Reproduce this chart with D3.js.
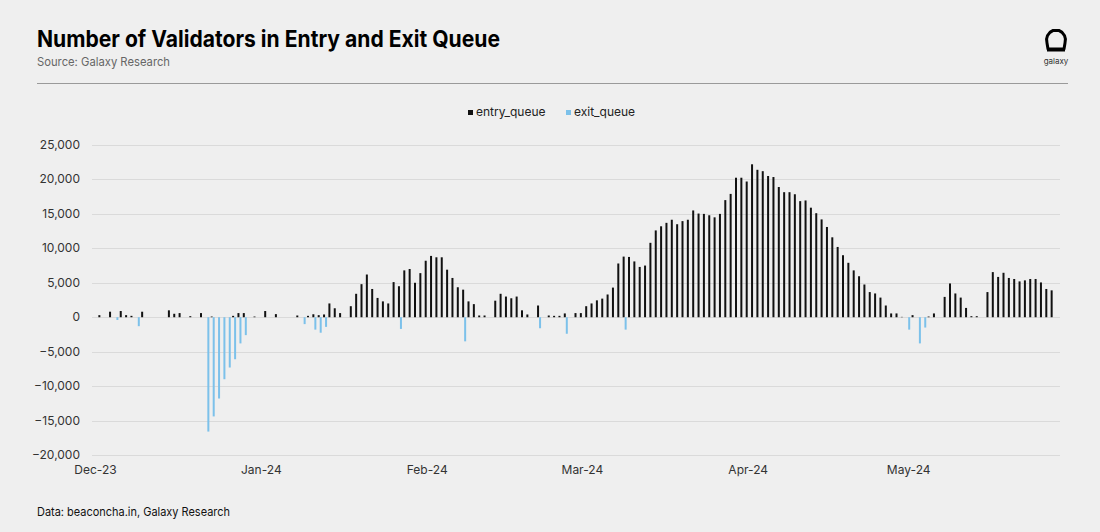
<!DOCTYPE html>
<html>
<head>
<meta charset="utf-8">
<script src="https://cdn.jsdelivr.net/npm/d3@7"></script>
<style>
  body { margin: 0; background: #efefef; }
  svg { display: block; font-family: Inter, "Noto Sans", sans-serif; }
</style>
</head>
<body>
<div id="chart"></div>
<script>
// daily values, starting 1 Dec 2023 (index 0) to 28 May 2024 (index 179)
const startDate = Date.UTC(2023, 11, 1);
const entryQueue = [
  0, 300, 0, 800, 0, 900, 300, 200, 0, 800,
  0, 0, 0, 0, 1000, 500, 600, 0, 150, 0,
  600, 0, 100, 0, 0, 0, 200, 600, 600, 0,
  100, 0, 900, 0, 450, 0, 0, 0, 250, 0,
  200, 430, 300, 400, 2000, 1300, 600, 0, 1600, 3400,
  4800, 6200, 4100, 2800, 2300, 2000, 5100, 4500, 6800, 7000,
  5000, 6400, 8200, 8900, 8700, 8700, 6900, 5700, 4350, 4000,
  2300, 1900, 250, 250, 0, 2400, 3400, 3000, 2750, 3000,
  1000, 400, 0, 1700, 0, 250, 200, 200, 550, 0,
  600, 600, 1600, 2000, 2450, 2700, 3300, 4300, 7800, 8800,
  8750, 8100, 7300, 7500, 10800, 12600, 13200, 13700, 14150, 13500,
  13950, 14150, 15500, 15050, 15000, 14800, 14500, 15000, 17000, 17900,
  20250, 20250, 19700, 22200, 21400, 21200, 20500, 20350, 18900, 18150,
  18150, 17850, 16850, 16950, 15900, 15100, 14200, 13100, 11600, 10200,
  9000, 7900, 6800, 5950, 4750, 3650, 3450, 2850, 1700, 550,
  550, 50, 0, 300, 0, 0, 100, 550, 0, 2950,
  4900, 3450, 2850, 1350, 150, 150, 0, 3650, 6550, 5850,
  6450, 5700, 5550, 5200, 5350, 5550, 5550, 5050, 4100, 3900
];
const exitQueue = [
  0, 0, 0, 0, -400, 0, 0, 0, -1300, 0,
  0, 0, 0, 0, 0, 0, 0, 0, 0, 0,
  0, -16600, -14400, -11800, -9000, -7300, -6100, -3800, -2600, 0,
  0, 0, 0, 0, 0, 0, 0, 0, 0, -1000,
  0, -1800, -2250, -1400, 0, 0, 0, 0, 0, 0,
  0, 0, 0, 0, 0, 0, 0, -1700, 0, 0,
  0, 0, 0, 0, 0, 0, 0, 0, 0, -3500,
  0, 0, 0, 0, 0, 0, 0, 0, 0, 0,
  0, 0, 0, -1600, 0, 0, 0, 0, -2400, 0,
  0, 0, 0, 0, 0, 0, 0, 0, 0, -1800,
  0, 0, 0, 0, 0, 0, 0, 0, 0, 0,
  0, 0, 0, 0, 0, 0, 0, 0, 0, 0,
  0, 0, 0, 0, 0, 0, 0, 0, 0, 0,
  0, 0, 0, 0, 0, 0, 0, 0, 0, 0,
  0, 0, 0, 0, 0, 0, 0, 0, 0, 0,
  0, 0, -1800, 0, -3800, -1500, 0, 0, 0, 0,
  0, 0, 0, 0, 0, 0, 0, 0, 0, 0,
  0, 0, 0, 0, 0, 0, 0, 0, 0, 0
];
const yTicks = [-20000, -15000, -10000, -5000, 0, 5000, 10000, 15000, 20000, 25000];
const monthTicks = ["2023-12-01", "2024-01-01", "2024-02-01", "2024-03-01", "2024-04-01", "2024-05-01"];
const seriesNames = ["entry_queue", "exit_queue"];
const seriesColors = ["#111111", "#7cc1ea"];

const W = 1100, H = 532;
const svg = d3.select("#chart").append("svg")
    .attr("width", W)
    .attr("height", H);

const day = 86400000;
const dates = entryQueue.map((d, i) => new Date(startDate + i * day));

// x: one day ~5.35px, Dec 1 centred at 95
const x = d3.scaleUtc()
    .domain([new Date(startDate), new Date(startDate + 182 * day)])
    .range([95, 95 + 182 * 5.35]);
const y = d3.scaleLinear()
    .domain([-20000, 25000])
    .range([455, 145]);

// header
svg.append("text")
    .attr("x", 37).attr("y", 47)
    .attr("font-size", 23).attr("font-weight", 700)
    .attr("fill", "#000")
    .attr("textLength", 463).attr("lengthAdjust", "spacingAndGlyphs")
    .text("Number of Validators in Entry and Exit Queue");
svg.append("text")
    .attr("x", 37).attr("y", 66)
    .attr("font-size", 12).attr("fill", "#666")
    .attr("textLength", 133).attr("lengthAdjust", "spacingAndGlyphs")
    .text("Source: Galaxy Research");
svg.append("line")
    .attr("x1", 37).attr("x2", 1068)
    .attr("y1", 83.5).attr("y2", 83.5)
    .attr("stroke", "#9a9a9a").attr("stroke-width", 1);

// logo
const logo = svg.append("g").attr("transform", "translate(1056,40)");
logo.append("path")
    .attr("d", "M-8,9 L-9,3 A10,10 0 0 1 -3,-9.5 L3,-9.5 A10,10 0 0 1 9,3 L8,9 Z")
    .attr("fill", "none").attr("stroke", "#000").attr("stroke-width", 3)
    .attr("stroke-linejoin", "round");
logo.append("line")
    .attr("x1", -9).attr("x2", 9).attr("y1", 10).attr("y2", 10)
    .attr("stroke", "#000").attr("stroke-width", 3);
logo.append("text")
    .attr("x", 0).attr("y", 24)
    .attr("text-anchor", "middle")
    .attr("font-size", 8).attr("fill", "#333")
    .text("galaxy");

// legend
const legend = svg.append("g").attr("transform", "translate(468,116)");
const legendX = [0, 98];
seriesNames.forEach((name, i) => {
    legend.append("rect")
        .attr("x", legendX[i]).attr("y", -6)
        .attr("width", 5).attr("height", 5)
        .attr("fill", seriesColors[i]);
    legend.append("text")
        .attr("x", legendX[i] + 8).attr("y", 0)
        .attr("font-size", 12).attr("fill", "#222")
        .text(name);
});

// gridlines + y axis labels
svg.append("g")
    .selectAll("line")
    .data(yTicks)
    .enter().append("line")
    .attr("x1", 92).attr("x2", 1060)
    .attr("y1", d => Math.round(y(d)) + 0.5)
    .attr("y2", d => Math.round(y(d)) + 0.5)
    .attr("stroke", "#dadada").attr("stroke-width", 1);

svg.append("g")
    .selectAll("text")
    .data(yTicks)
    .enter().append("text")
    .attr("x", 80)
    .attr("y", d => y(d) + 4)
    .attr("text-anchor", "end")
    .attr("font-size", 12).attr("fill", "#333")
    .text(d => d3.format(",")(d));

// x axis labels
const xAxis = d3.axisBottom(x)
    .tickValues(monthTicks.map(s => new Date(s + "T00:00:00Z")))
    .tickFormat(d3.utcFormat("%b-%y"))
    .tickSize(0)
    .tickPadding(0);
const gx = svg.append("g")
    .attr("transform", "translate(0,465)")
    .call(xAxis);
gx.select(".domain").remove();
gx.selectAll("text")
    .attr("font-size", 12).attr("fill", "#333")
    .attr("font-family", "Inter, sans-serif");

// bars
const barW = 2;
svg.append("g")
    .selectAll("rect")
    .data(entryQueue.map((v, i) => ({ date: dates[i], v })).filter(d => d.v !== 0))
    .enter().append("rect")
    .attr("x", d => x(d.date) - barW)
    .attr("y", d => y(d.v))
    .attr("width", barW)
    .attr("height", d => y(0) - y(d.v))
    .attr("fill", seriesColors[0]);

svg.append("g")
    .selectAll("rect")
    .data(exitQueue.map((v, i) => ({ date: dates[i], v })).filter(d => d.v !== 0))
    .enter().append("rect")
    .attr("x", d => x(d.date))
    .attr("y", y(0))
    .attr("width", barW)
    .attr("height", d => y(d.v) - y(0))
    .attr("fill", seriesColors[1]);

// footer
svg.append("text")
    .attr("x", 37).attr("y", 516)
    .attr("font-size", 12).attr("fill", "#111")
    .attr("textLength", 193).attr("lengthAdjust", "spacingAndGlyphs")
    .text("Data: beaconcha.in, Galaxy Research");
</script>
</body>
</html>
